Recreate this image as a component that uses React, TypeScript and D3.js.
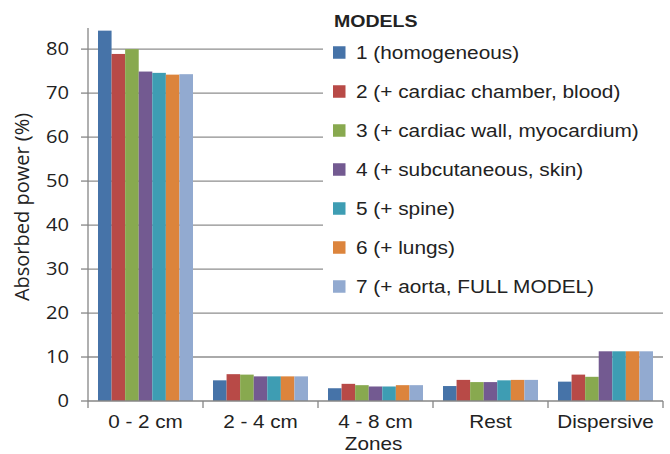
import { scaleBand, scaleLinear } from "d3";
import type { ReactNode } from "react";

const zones = ["0 - 2 cm", "2 - 4 cm", "4 - 8 cm", "Rest", "Dispersive"];
const models = [
  "1 (homogeneous)",
  "2 (+ cardiac chamber, blood)",
  "3 (+ cardiac wall, myocardium)",
  "4 (+ subcutaneous, skin)",
  "5 (+ spine)",
  "6 (+ lungs)",
  "7 (+ aorta, FULL MODEL)"
];
// values[model][zone]
const values = [
  [84.2, 4.7, 2.9, 3.4, 4.4],
  [78.9, 6.1, 3.9, 4.8, 6.0],
  [80.0, 6.0, 3.6, 4.3, 5.5],
  [74.9, 5.6, 3.3, 4.3, 11.3],
  [74.6, 5.6, 3.3, 4.7, 11.3],
  [74.2, 5.6, 3.6, 4.8, 11.3],
  [74.3, 5.6, 3.6, 4.8, 11.3]
];
const yTicks = [0, 10, 20, 30, 40, 50, 60, 70, 80];
const colors = ["#4673A8", "#B84A47", "#88A94F", "#735A91", "#3E9DB3", "#DC843C", "#92AAD0"];

const left = 88;
const right = 663;
const top = 28;
const bottom = 401;
const axisFont = "'Open Sans', sans-serif";
const labelFont = "'Liberation Sans', Arial, sans-serif";
const stretch = 1.15;

function WideText({
  x,
  y,
  anchor = "start",
  size,
  family,
  weight,
  dy,
  children
}: {
  x: number;
  y: number;
  anchor?: "start" | "middle" | "end";
  size: number;
  family: string;
  weight?: string;
  dy?: string;
  children: ReactNode;
}) {
  return (
    <g transform={`translate(${x}, ${y}) scale(${stretch}, 1)`}>
      <text
        textAnchor={anchor}
        dy={dy}
        fontFamily={family}
        fontSize={size}
        fontWeight={weight}
        fill="#222"
      >
        {children}
      </text>
    </g>
  );
}

export default function App() {
  const x0 = scaleBand<string>().domain(zones).range([left, right]);
  const inset = 10;
  const x1 = scaleBand<number>()
    .domain(models.map((_, i) => i))
    .range([inset, x0.step() - inset]);
  const y = scaleLinear().domain([0, 84.8]).range([bottom, top]);

  return (
    <svg width={670} height={454} style={{ position: "absolute", left: 0, top: 0 }}>
      <rect width={670} height={454} fill="#fff" />
      {yTicks
        .filter((t) => t > 0)
        .map((t) => (
          <line key={t} x1={left} x2={right} y1={y(t)} y2={y(t)} stroke="#8e8e8e" strokeWidth={1.3} />
        ))}
      {/* legend background hides the gridlines behind it */}
      <rect x={323} y={0} width={347} height={302} fill="#fff" />
      {zones.map((z, zi) =>
        models.map((_, mi) => (
          <rect
            key={`${z}-${mi}`}
            x={(x0(z) ?? 0) + (x1(mi) ?? 0)}
            y={y(values[mi][zi])}
            width={x1.bandwidth()}
            height={bottom - y(values[mi][zi])}
            fill={colors[mi]}
          />
        ))
      )}
      <line x1={left} x2={left} y1={top} y2={bottom} stroke="#868686" strokeWidth={1.3} />
      <line x1={left} x2={right} y1={bottom} y2={bottom} stroke="#868686" strokeWidth={1.3} />
      {yTicks.map((t) => (
        <g key={t}>
          <line x1={left - 7} x2={left} y1={y(t)} y2={y(t)} stroke="#868686" strokeWidth={1.3} />
          <WideText x={69} y={y(t)} dy="0.36em" anchor="end" family={axisFont} size={17.5}>
            {t}
          </WideText>
        </g>
      ))}
      {[...zones.map((z) => x0(z) ?? 0), right].map((px, i) => (
        <line key={i} x1={px} x2={px} y1={bottom} y2={bottom + 7} stroke="#868686" strokeWidth={1.3} />
      ))}
      {zones.map((z) => (
        <WideText
          key={z}
          x={(x0(z) ?? 0) + x0.bandwidth() / 2}
          y={428}
          anchor="middle"
          family={labelFont}
          size={18}
        >
          {z}
        </WideText>
      ))}
      <WideText x={(left + right) / 2 - 2} y={450} anchor="middle" family={labelFont} size={18}>
        Zones
      </WideText>
      <text
        transform={`translate(29, 207) rotate(-90)`}
        textAnchor="middle"
        fontFamily={axisFont}
        fontSize={20}
        fill="#222"
      >
        Absorbed power (%)
      </text>
      <WideText x={334} y={27} family={labelFont} size={17} weight="bold">
        MODELS
      </WideText>
      {models.map((m, i) => (
        <g key={m} transform={`translate(333, ${52.5 + i * 39})`}>
          <rect x={0} y={-6.25} width={12.5} height={12.5} fill={colors[i]} />
          <WideText x={23} y={0} dy="0.35em" family={labelFont} size={18.1}>
            {m}
          </WideText>
        </g>
      ))}
    </svg>
  );
}
